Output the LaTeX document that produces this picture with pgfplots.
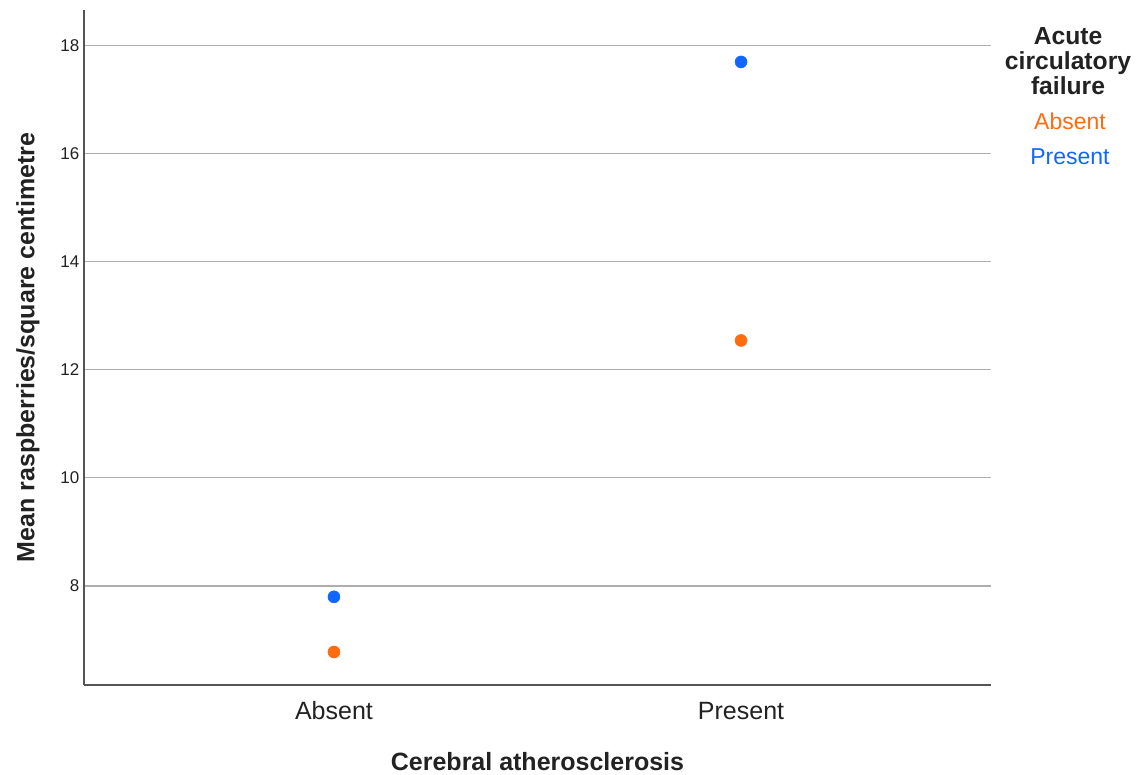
\documentclass[border=0pt]{standalone}
\usepackage{pgfplots}
\pgfplotsset{compat=1.18}
\usepackage{fontspec}
\setmainfont{Liberation Sans}
\definecolor{cOrange}{HTML}{FF6B0F}
\definecolor{cBlue}{HTML}{1166FF}
\definecolor{cText}{HTML}{222222}
\definecolor{cAxis}{HTML}{555555}
\definecolor{cGrid}{HTML}{AEAEAE}
\begin{document}
\begin{tikzpicture}
\path[use as bounding box] (-63pt,-66.75pt) rectangle (789.75pt,513.75pt);
\begin{axis}[
  scale only axis,
  width=680.25pt, height=506.25pt,
  at={(0,0)}, anchor=south west,
  xmin=-0.614, xmax=1.614,
  ymin=6.17, ymax=18.65,
  xtick={0,1}, xticklabels={Absent,Present},
  ytick={8,10,12,14,16,18},
  /pgf/number format/assume math mode=true,
  axis x line=bottom, axis y line=left,
  axis line style={-, cAxis, line width=0.9pt},
  major tick length=0pt,
  ymajorgrids,
  grid style={cGrid, line width=0.9pt},
  tick label style={text=cText},
  yticklabel style={font=\fontsize{12.75}{15}\selectfont},
  xticklabel style={font=\fontsize{18.75}{22}\selectfont, text height=14pt, text depth=0pt, yshift=-8pt},
  xlabel={Cerebral atherosclerosis},
  ylabel={Mean raspberries/square centimetre},
  xlabel style={at={(axis description cs:0.5,-0.1141)}, anchor=center, font=\fontsize{18.75}{22}\selectfont\bfseries, text=cText},
  ylabel style={at={(axis description cs:-0.0617,0.5)}, anchor=center, rotate=0, font=\fontsize{18.75}{22}\selectfont\bfseries, text=cText},
  legend style={at={(rel axis cs:1.0871,0.8089)}, anchor=center, draw=none, fill=none, inner sep=0pt,
    row sep=14pt,
    nodes={inner sep=0pt, text height=12.5pt, text depth=0pt, font=\fontsize{17.25}{20}\selectfont}},
  legend cell align=center,
  legend image code/.code={},
  clip=false,
]
\addplot[only marks, mark=*, mark size=4.5pt, color=cOrange, mark options={draw=cOrange, fill=cOrange}]
  coordinates {(0,6.78) (1,12.54)};
\addlegendentry{\textcolor{cOrange}{Absent}}
\addplot[only marks, mark=*, mark size=4.5pt, color=cBlue, mark options={draw=cBlue, fill=cBlue}]
  coordinates {(0,7.80) (1,17.69)};
\addlegendentry{\textcolor{cBlue}{Present}}
\node[align=center, anchor=center, text=cText, font=\fontsize{18.5}{18.75}\selectfont\bfseries, inner sep=0pt]
  at (rel axis cs:1.0849,0.9244) {Acute\\circulatory\\failure};
\end{axis}
\end{tikzpicture}
\end{document}
